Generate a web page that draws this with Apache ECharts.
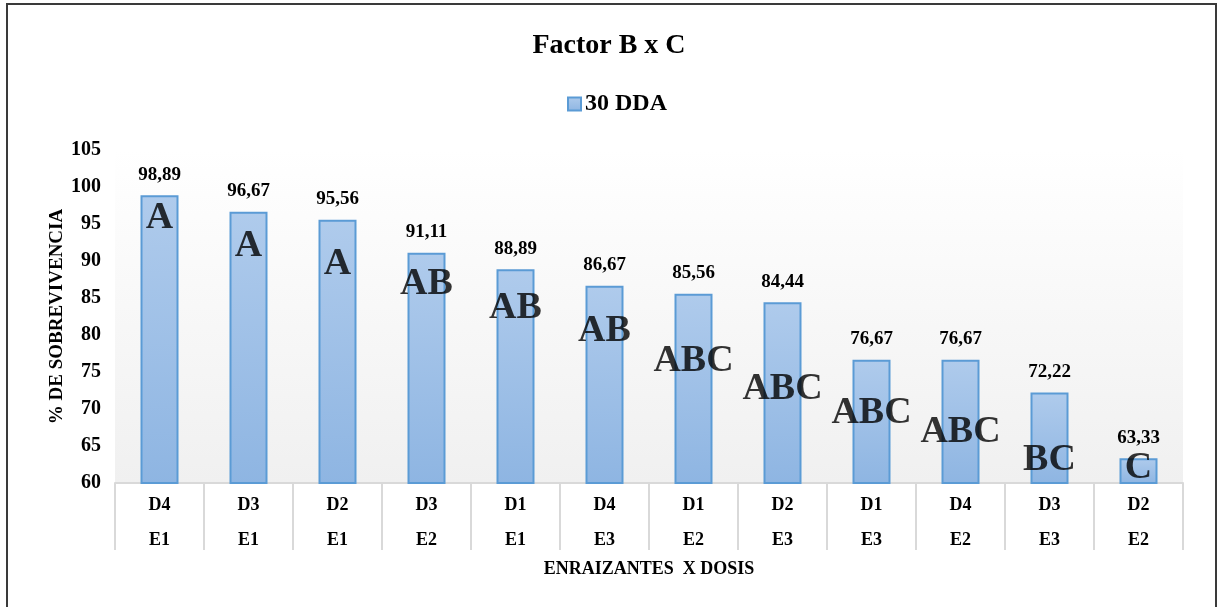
<!DOCTYPE html>
<html>
<head>
<meta charset="utf-8">
<script src="https://cdn.jsdelivr.net/npm/echarts@6/dist/echarts.min.js"></script>
<style>
  html, body { margin: 0; padding: 0; background: #ffffff; }
  #chart { width: 1218px; height: 607px; }
</style>
</head>
<body>
<div id="chart"></div>
<script>
// Treatment combinations: dose (first line) and rooting agent (second line)
const dosis = ['D4', 'D3', 'D2', 'D3', 'D1', 'D4', 'D1', 'D2', 'D1', 'D4', 'D3', 'D2'];
const enraizantes = ['E1', 'E1', 'E1', 'E2', 'E1', 'E3', 'E2', 'E3', 'E3', 'E2', 'E3', 'E2'];
// Survival percentage at 30 DDA
const sobrevivencia = [98.89, 96.67, 95.56, 91.11, 88.89, 86.67, 85.56, 84.44, 76.67, 76.67, 72.22, 63.33];
// Mean separation groups
const grupos = ['A', 'A', 'A', 'AB', 'AB', 'AB', 'ABC', 'ABC', 'ABC', 'ABC', 'BC', 'C'];
const yTicks = { min: 60, max: 105, step: 5 };

// Height (in axis units) at which each group letter sits inside its bar
const letterAt = [95.8, 92.0, 89.6, 86.8, 83.6, 80.5, 76.5, 72.7, 69.5, 66.8, 63.1, 62.0];

const categories = dosis.map((d, i) => d + '\n' + enraizantes[i]);
const serif = '"Liberation Serif", "Times New Roman", serif';

const chart = echarts.init(document.getElementById('chart'), null, { renderer: 'canvas' });

chart.setOption({
  animation: false,
  backgroundColor: '#ffffff',
  textStyle: { fontFamily: serif },
  title: {
    text: 'Factor B x C',
    left: 'center',
    top: 27,
    textStyle: { fontFamily: serif, fontSize: 28, fontWeight: 'bold', color: '#000' }
  },
  legend: {
    data: ['30 DDA'],
    left: 562,
    top: 87,
    itemWidth: 13,
    itemHeight: 13,
    itemGap: 6,
    icon: 'rect',
    textStyle: { fontFamily: serif, fontSize: 24, fontWeight: 'bold', color: '#000', padding: [0, 0, 0, -1] }
  },
  grid: {
    left: 115,
    right: 35,
    top: 150,
    bottom: 124,
    show: true,
    borderWidth: 0,
    backgroundColor: new echarts.graphic.LinearGradient(0, 0, 0, 1, [
      { offset: 0, color: '#ffffff' },
      { offset: 1, color: '#f0f0f0' }
    ])
  },
  xAxis: {
    type: 'category',
    data: categories,
    name: 'ENRAIZANTES  X DOSIS',
    nameLocation: 'middle',
    nameGap: 77,
    nameMoveOverlap: false,
    nameTextStyle: { fontFamily: serif, fontSize: 18, fontWeight: 'bold', color: '#000' },
    axisLine: { show: true, lineStyle: { color: '#d9d9d9', width: 2 } },
    axisTick: { show: true, length: 67, lineStyle: { color: '#d9d9d9', width: 2 } },
    axisLabel: {
      margin: 5,
      fontFamily: serif,
      fontSize: 18,
      fontWeight: 'bold',
      color: '#000',
      lineHeight: 35,
      interval: 0
    },
    splitLine: { show: false }
  },
  yAxis: {
    type: 'value',
    min: yTicks.min,
    max: yTicks.max,
    interval: yTicks.step,
    name: '% DE SOBREVIVENCIA',
    nameLocation: 'middle',
    nameGap: 48,
    nameMoveOverlap: false,
    nameRotate: 90,
    nameTextStyle: { fontFamily: serif, fontSize: 19, fontWeight: 'bold', color: '#000' },
    axisLine: { show: false },
    axisTick: { show: false },
    splitLine: { show: false },
    axisLabel: {
      margin: 14,
      fontFamily: serif,
      fontSize: 20,
      fontWeight: 'bold',
      color: '#000'
    }
  },
  series: [
    {
      name: '30 DDA',
      type: 'bar',
      data: sobrevivencia,
      barWidth: 38,
      itemStyle: {
        color: new echarts.graphic.LinearGradient(0, 0, 0, 1, [
          { offset: 0, color: '#afcbec' },
          { offset: 1, color: '#8eb5e2' }
        ]),
        borderColor: '#5b9bd5',
        borderWidth: 2
      },
      label: {
        show: true,
        position: 'top',
        distance: 11,
        fontFamily: serif,
        fontSize: 19,
        fontWeight: 'bold',
        color: '#000',
        formatter: p => p.value.toFixed(2).replace('.', ',')
      }
    },
    {
      name: 'grupos',
      type: 'scatter',
      symbolSize: 0,
      silent: true,
      z: 5,
      data: letterAt.map((v, i) => [i, v]),
      label: {
        show: true,
        position: 'inside',
        fontFamily: serif,
        fontSize: 38,
        fontWeight: 'bold',
        color: '#000',
        formatter: p => grupos[p.dataIndex]
      }
    }
  ],
  graphic: [
    {
      type: 'rect',
      shape: { x: 7, y: 4, width: 1209, height: 700 },
      style: { fill: 'none', stroke: '#3a3a3a', lineWidth: 2 },
      silent: true
    }
  ]
});
</script>
</body>
</html>
